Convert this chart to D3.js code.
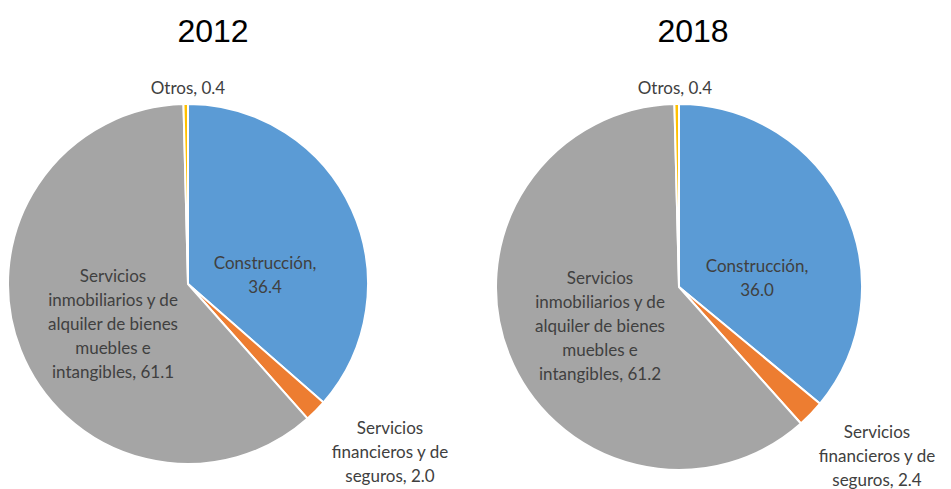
<!DOCTYPE html>
<html>
<head>
<meta charset="utf-8">
<script src="https://cdn.jsdelivr.net/npm/d3@7"></script>
<style>
  body { margin: 0; background: #fff; }
  svg { display: block; }
</style>
</head>
<body>
<svg></svg>
<script>
// data
var years = ["2012", "2018"];
var categories = ["Construcción", "Servicios financieros y de seguros",
    "Servicios inmobiliarios y de alquiler de bienes muebles e intangibles", "Otros"];
var values2012 = [36.4, 2.0, 61.1, 0.4];
var values2018 = [36.0, 2.4, 61.2, 0.4];
var colors = ["#5b9bd5", "#ed7d31", "#a5a5a5", "#ffc000"];

// label lines (text broken as in the original)
var labelLines = [
    ["Construcción,", "{v}"],
    ["Servicios", "financieros y de", "seguros, {v}"],
    ["Servicios", "inmobiliarios y de", "alquiler de bienes", "muebles e", "intangibles, {v}"],
    ["Otros, {v}"]
];

var svg = d3.select("svg").attr("width", 951).attr("height", 489);

var pies = [
    {year: years[0], values: values2012, cx: 188, cy: 284, r: 180, titleX: 213,
        labels: [[77, -9], [202, 168], [-75, 40], [0, -196]]},
    {year: years[1], values: values2018, cx: 679, cy: 287, r: 183, titleX: 693,
        labels: [[78, -9], [198, 169], [-79, 39], [-4, -199]]}
];

var pie = d3.pie().sort(null).value(function (d) { return d; });

pies.forEach(function (p) {
    svg.append("text")
        .attr("x", p.titleX)
        .attr("y", 42)
        .attr("text-anchor", "middle")
        .style("font-family", "Arial, 'Liberation Sans', sans-serif")
        .style("font-size", "32px")
        .style("fill", "#000")
        .text(p.year);

    var arc = d3.arc().innerRadius(0).outerRadius(p.r);
    var g = svg.append("g").attr("transform", "translate(" + p.cx + "," + p.cy + ")");

    g.selectAll("path")
        .data(pie(p.values))
        .enter().append("path")
        .attr("d", arc)
        .attr("fill", function (d, i) { return colors[i]; })
        .attr("stroke", "#fff")
        .attr("stroke-width", 2);

    p.values.forEach(function (v, i) {
        var lines = labelLines[i];
        var t = g.append("text")
            .attr("text-anchor", "middle")
            .style("font-family", "Lato, 'Open Sans', sans-serif")
            .style("font-size", "17px")
            .style("fill", "#404040");
        var n = lines.length;
        lines.forEach(function (s, k) {
            t.append("tspan")
                .attr("x", p.labels[i][0])
                .attr("y", p.labels[i][1] + (k - (n - 1) / 2) * 24 + 6)
                .text(s.replace("{v}", v.toFixed(1)));
        });
    });
});
</script>
</body>
</html>
